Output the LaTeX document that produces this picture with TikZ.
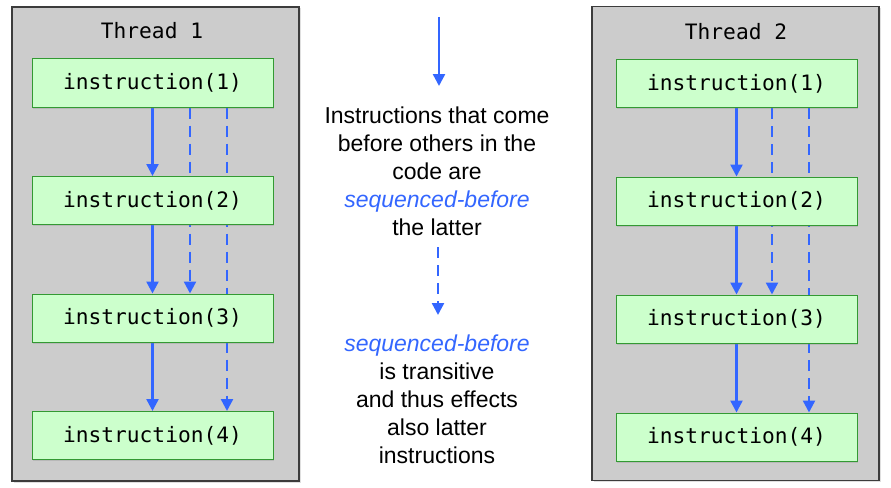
\documentclass[tikz,border=0pt]{standalone}
\usepackage{fontspec}
\setmainfont{Liberation Sans}
\setmonofont{DejaVu Sans Mono}
\usetikzlibrary{arrows.meta,shadows}
\definecolor{arrblue}{RGB}{51,102,255}
\definecolor{boxfill}{RGB}{204,255,204}
\definecolor{boxline}{RGB}{51,153,51}
\definecolor{framefill}{RGB}{204,204,204}
\definecolor{frameline}{RGB}{60,60,60}
\pgfdeclarelayer{bg}
\pgfdeclarelayer{arr}
\pgfsetlayers{bg,arr,main}
\begin{document}
\begin{tikzpicture}[x=1pt,y=-1pt,
  framebox/.style={draw=frameline,fill=framefill,line width=1.2pt,minimum width=287pt,minimum height=474pt,inner sep=0pt,
     drop shadow={shadow xshift=1.5pt,shadow yshift=-1.5pt,opacity=0.25}},
  instbox/.style={draw=boxline,fill=boxfill,line width=1pt,minimum width=241pt,minimum height=48pt,inner sep=0pt,
     font=\ttfamily\fontsize{21.2}{24}\selectfont,
     drop shadow={shadow xshift=1pt,shadow yshift=-1.5pt,opacity=0.25}},
  titletext/.style={font=\ttfamily\fontsize{21.2}{24}\selectfont,inner sep=0pt},
  solidarr/.style={draw=arrblue,line width=2.4pt,-{Triangle[width=12pt,length=12pt]}},
  dasharr/.style={draw=arrblue,line width=2.4pt,dash pattern=on 11pt off 7pt,-{Triangle[width=12pt,length=12pt]}},
  midtext/.style={inner sep=0pt,align=center,font=\fontsize{23}{28}\selectfont}
]
\useasboundingbox (0,0) rectangle (891,487);
% frames
\begin{pgfonlayer}{bg}
\node[framebox] (fr1) at (155.5,244) {};
\node[framebox] (fr2) at (735.5,243.5) {};
\end{pgfonlayer}
\node[titletext] (t1) at (152,31) {Thread 1};
\node[titletext] (t2) at (736,32) {Thread 2};
% thread 1 boxes
\node[instbox] (a1) at (152.5,83) {instruction(1)};
\node[instbox] (a2) at (152.5,200.5) {instruction(2)};
\node[instbox] (a3) at (152.5,318) {instruction(3)};
\node[instbox] (a4) at (152.5,435.5) {instruction(4)};
% thread 2 boxes
\node[instbox] (b1) at (736.5,83.5) {instruction(1)};
\node[instbox] (b2) at (736.5,201) {instruction(2)};
\node[instbox] (b3) at (736.5,319) {instruction(3)};
\node[instbox] (b4) at (736.5,437) {instruction(4)};
% middle text
\coordinate (m1s) at (439,17);
\coordinate (m1e) at (439,86);
\coordinate (m2s) at (438,247);
\coordinate (m2e) at (438,315);
\node[midtext,anchor=north] (txt1) at (437,106.5) {Instructions that come\\before others in the\\code are\\\textcolor{arrblue}{\itshape sequenced-before}\\the latter};
\node[midtext,anchor=north] (txt2) at (437,334.5) {\textcolor{arrblue}{\itshape sequenced-before}\\is transitive\\and thus effects\\also latter\\instructions};
\begin{pgfonlayer}{arr}
\draw[solidarr] (a1.south) -- (a2.north);
\draw[solidarr] (a2.south) -- (a3.north);
\draw[solidarr] (a3.south) -- (a4.north);
\draw[dasharr] ([xshift=37.5pt]a1.south) -- ([xshift=37.5pt]a3.north);
\draw[dasharr] ([xshift=74.5pt]a1.south) -- ([xshift=74.5pt]a4.north);
\draw[solidarr] (b1.south) -- (b2.north);
\draw[solidarr] (b2.south) -- (b3.north);
\draw[solidarr] (b3.south) -- (b4.north);
\draw[dasharr] ([xshift=35.5pt]b1.south) -- ([xshift=35.5pt]b3.north);
\draw[dasharr] ([xshift=72.5pt]b1.south) -- ([xshift=72.5pt]b4.north);
\draw[solidarr] (m1s) -- (m1e);
\draw[dasharr] (m2s) -- (m2e);
\end{pgfonlayer}
\end{tikzpicture}
\end{document}
